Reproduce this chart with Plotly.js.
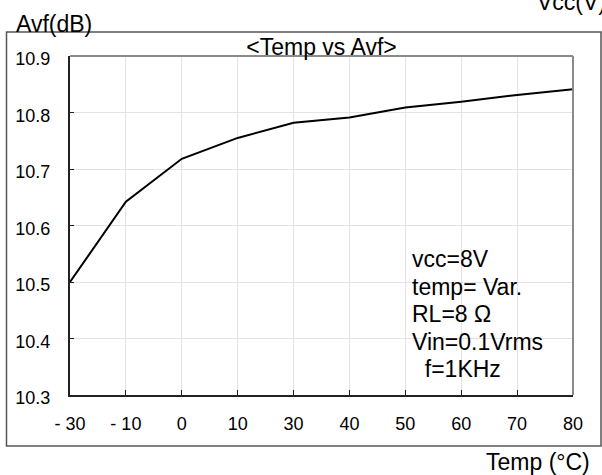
<!DOCTYPE html>
<html>
<head>
<meta charset="utf-8">
<script src="https://cdn.plot.ly/plotly-3.0.1.min.js"></script>
<style>html,body{margin:0;padding:0;background:#fff;}#chart{width:602px;height:475px;}</style>
</head>
<body>
<div id="chart"></div>
<script>
// ---- data ----
var tempLabels = ["- 30", "- 10", "0", "10", "30", "40", "50", "60", "70", "80"];
var avfValues  = [10.50, 10.642, 10.718, 10.755, 10.782, 10.791, 10.809, 10.819, 10.831, 10.841];
var yTicks     = [10.3, 10.4, 10.5, 10.6, 10.7, 10.8, 10.9];
var noteLines  = ["vcc=8V", "temp= Var.", "RL=8 \u03A9", "Vin=0.1Vrms", "\u00a0\u00a0f=1KHz"];
var chartTitle = "&lt;Temp vs Avf&gt;";
var yTitle = "Avf(dB)";
var xTitle = "Temp (\u00B0C)";
var topRightText = "Vcc(V)";

// ---- layout helpers ----
var FW = 602, FH = 475;
var M = {l: 70, r: 29, t: 56, b: 80};
var PW = FW - M.l - M.r, PH = FH - M.t - M.b;
function xp(px) { return (px - M.l) / PW; }
function yp(py) { return (FH - M.b - py) / PH; }

var FONT = "Liberation Sans, Arial, Helvetica, sans-serif";

var annotations = [];
annotations.push({xref: "paper", yref: "paper", x: xp(14), y: yp(24), xanchor: "left", yanchor: "middle",
  text: yTitle, showarrow: false, font: {family: FONT, size: 23, color: "#000"}});
annotations.push({xref: "paper", yref: "paper", x: xp(535), y: yp(2), xanchor: "left", yanchor: "middle",
  text: topRightText, showarrow: false, font: {family: FONT, size: 23, color: "#000"}});
annotations.push({xref: "paper", yref: "paper", x: xp(592), y: yp(462), xanchor: "right", yanchor: "middle",
  text: xTitle, showarrow: false, font: {family: FONT, size: 23, color: "#000"}});
for (var i = 0; i < noteLines.length; i++) {
  annotations.push({xref: "paper", yref: "paper", x: xp(410), y: yp(259 + 27.5 * i), xanchor: "left", yanchor: "middle",
    text: noteLines[i], showarrow: false, font: {family: FONT, size: 23, color: "#000"}});
}

var shapes = [
  // white box behind note text (covers gridlines)
  {type: "rect", layer: "between", xref: "paper", yref: "paper",
   x0: xp(393), x1: xp(571), y0: yp(394), y1: yp(240), fillcolor: "#ffffff", line: {width: 0}},
  // plot top & right borders (gray)
  {type: "line", xref: "paper", yref: "paper", x0: 0, x1: 1, y0: 1, y1: 1, line: {color: "#8a8a8a", width: 2}},
  {type: "line", xref: "paper", yref: "paper", x0: 1, x1: 1, y0: 0, y1: 1, line: {color: "#8a8a8a", width: 2}},
  // outer frame
  {type: "rect", xref: "paper", yref: "paper", x0: xp(6.5), x1: xp(601), y0: yp(446), y1: yp(32),
   fillcolor: "rgba(0,0,0,0)", line: {color: "#555", width: 1.5}}
];

var trace = {
  x: tempLabels, y: avfValues, type: "scatter", mode: "lines",
  line: {color: "#000", width: 2}, hoverinfo: "none", cliponaxis: false
};

var layout = {
  width: FW, height: FH,
  margin: M,
  paper_bgcolor: "#fff", plot_bgcolor: "#fff",
  showlegend: false,
  font: {family: FONT, color: "#000"},
  title: {text: chartTitle, font: {family: FONT, size: 23, color: "#000"},
          x: 0.5, xref: "paper", xanchor: "center", y: 1, yref: "paper", yanchor: "bottom", pad: {b: 1}},
  xaxis: {
    type: "category", range: [0, tempLabels.length - 1],
    showgrid: true, gridcolor: "#e3e3e3", gridwidth: 1,
    showline: true, linecolor: "#222", linewidth: 2,
    ticks: "inside", ticklen: 5, tickwidth: 1, tickcolor: "#222",
    tickfont: {family: FONT, size: 18, color: "#000"},
    ticklabelstandoff: 11, zeroline: false, fixedrange: true
  },
  yaxis: {
    range: [10.3, 10.9], tickvals: yTicks, ticktext: yTicks.map(function(v){return v.toFixed(1);}),
    showgrid: true, gridcolor: "#e3e3e3", gridwidth: 1,
    showline: true, linecolor: "#222", linewidth: 2,
    ticks: "inside", ticklen: 4, tickwidth: 1, tickcolor: "#222",
    tickfont: {family: FONT, size: 18, color: "#000"},
    ticklabelstandoff: 14, ticklabelshift: 3, zeroline: false, fixedrange: true
  },
  annotations: annotations,
  shapes: shapes
};

Plotly.newPlot("chart", [trace], layout, {staticPlot: true, displayModeBar: false});
</script>
</body>
</html>
